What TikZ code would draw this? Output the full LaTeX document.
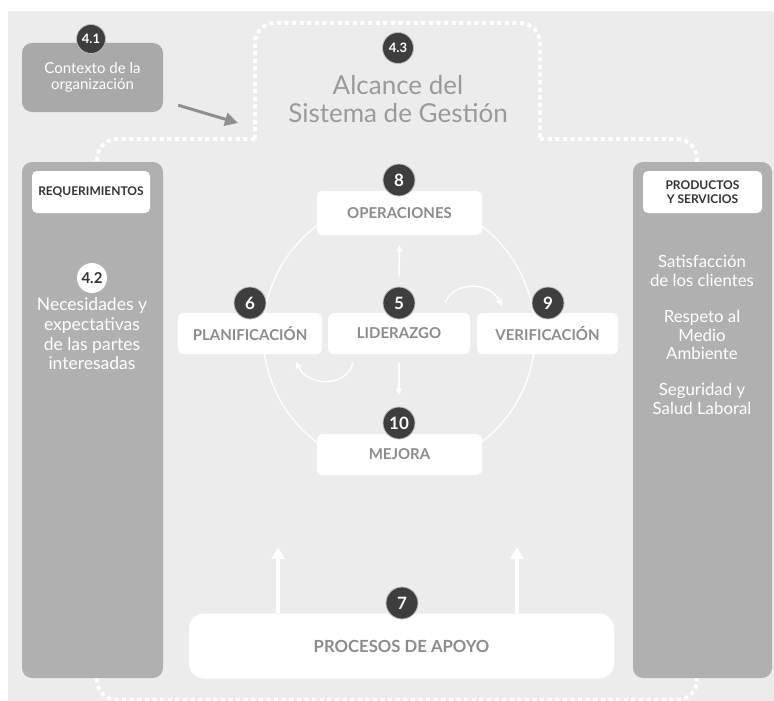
\documentclass[tikz,border=0pt]{standalone}
\usepackage{fontspec}
\setmainfont{Lato}
\usetikzlibrary{arrows.meta,calc}

\definecolor{bgc}{HTML}{ECECEC}
\definecolor{colgray}{HTML}{B0B0B0}
\definecolor{ctxgray}{HTML}{A9A9A9}
\definecolor{badgec}{HTML}{3E3E3E}
\definecolor{labelgray}{HTML}{8C8C8C}
\definecolor{titlegray}{HTML}{9A9A9A}
\definecolor{arrowgray}{HTML}{8F8F8F}
\definecolor{darktext}{HTML}{333333}

\newcommand{\fsz}[2]{\fontsize{#1}{#2}\selectfont}

\begin{document}
\begin{tikzpicture}[x=1pt,y=-1pt,
  column/.style={fill=colgray, rounded corners=10pt, inner sep=0pt, minimum width=141pt, minimum height=516pt},
  whitebox/.style={fill=white, rounded corners=5pt, inner sep=0pt, text=labelgray,
    font=\bfseries\fsz{15}{17}, minimum height=42pt},
  tagbox/.style={fill=white, rounded corners=5pt, inner sep=0pt, text=darktext,
    font=\bfseries\fsz{12}{13.5}, align=center, minimum height=42pt},
  badgenode/.style={circle, fill=badgec, draw=white!65!badgec, line width=0.8pt, inner sep=0pt,
    minimum size=32pt, text=white, font=\bfseries\fsz{17}{17}},
  smallbadge/.style={badgenode, minimum size=29pt, font=\bfseries\fsz{13}{13}},
  coltext/.style={text=white, align=center},
  scopeline/.style={draw=white, line width=3.8pt, dash pattern=on 4.2pt off 3.4pt},
  cyclearrow/.style={draw=white, line width=1.4pt, -{Stealth[length=7pt,width=7pt]}},
  bigarrow/.style={draw=white, line width=4pt, -{Triangle[length=12pt,width=13pt]}}
]
\useasboundingbox (0,0) rectangle (774,701);
\fill[white] (0,0) rectangle (774,701);
\fill[bgc] (8,11) rectangle (774,701);

% dotted outline of the management-system scope
\draw[scopeline, rounded corners=20pt] (255,139) |- (400,23) -| (540,139);
\draw[scopeline, rounded corners=20pt] (255,139) -| (97,420);
\draw[scopeline, rounded corners=20pt] (540,139) -| (697,420);
\draw[scopeline, rounded corners=20pt] (97,420) |- (400,700) -| (697,420);

% PDCA ring
\draw[white, line width=1.3pt] (399,334) circle[radius=136];

% 4.1 context
\node[fill=ctxgray, rounded corners=10pt, minimum width=141pt, minimum height=69pt, inner sep=0pt,
      text=white, align=center, font=\fsz{15}{15.5}] (ctx) at (92.5,77.5) {Contexto de la\\organización};
\node[smallbadge] (b41) at (91,39) {4.1};
\coordinate (scopecorner) at (238,123);
\draw[arrowgray, line width=3pt, -{Triangle[length=13pt,width=13pt]}]
  ($(ctx.south east)+(15,-7)$) -- (scopecorner);

% 4.3 scope title
\node[smallbadge, minimum size=31pt] (b43) at (398,48) {4.3};
\node[text=titlegray, align=center, font=\fsz{26}{28}] (scope) at (398,99) {Alcance del\\Sistema de Gestión};

% left column: requirements
\node[column] (left) at (92.5,420) {};
\node[tagbox, minimum width=118pt] (req) at (91,192) {REQUERIMIENTOS};
\node[circle, fill=white, inner sep=0pt, minimum size=30pt, text=darktext, font=\bfseries\fsz{15}{15}] (b42) at (92,278) {4.2};
\node[coltext, font=\fsz{17.5}{19.7}] (needs) at (92,334) {Necesidades y\\expectativas\\de las partes\\interesadas};

% right column: products and services
\node[column, minimum width=139pt] (right) at (702.5,420) {};
\node[tagbox, minimum width=119pt] (prod) at (702.5,192) {PRODUCTOS\\Y SERVICIOS};
\node[coltext, font=\fsz{16.8}{18.5}] (sat) at (702,271) {Satisfacción\\de los clientes};
\node[coltext, font=\fsz{16.8}{18.5}] (env) at (702,335) {Respeto al\\Medio\\Ambiente};
\node[coltext, font=\fsz{16.8}{18.5}] (ohs) at (702,399) {Seguridad y\\Salud Laboral};

% cycle boxes
\node[whitebox, minimum width=165pt, minimum height=44pt] (ops) at (399.5,213) {OPERACIONES};
\node[whitebox, minimum width=144pt, minimum height=41pt] (pla) at (250,333.5) {PLANIFICACIÓN};
\node[whitebox, minimum width=142pt, minimum height=41pt] (lid) at (399,333.5) {LIDERAZGO};
\node[whitebox, minimum width=141pt, minimum height=41pt] (ver) at (547.5,333.5) {VERIFICACIÓN};
\node[whitebox, minimum width=165pt, minimum height=41pt] (mej) at (399.5,454.5) {MEJORA};

% support processes
\node[fill=white, rounded corners=15pt, minimum width=425pt, minimum height=65pt, inner sep=0pt,
      text=labelgray, font=\bfseries\fsz{16.7}{18}] (apo) at (401.5,646) {PROCESOS DE APOYO};

% badges
\node[badgenode] (b8) at (399,180) {8};
\node[badgenode] (b6) at (250,303) {6};
\node[badgenode] (b5) at (399,303) {5};
\node[badgenode] (b9) at (548,303) {9};
\node[badgenode] (b10) at (399,423) {10};
\node[badgenode] (b7) at (402,603) {7};

% arrows around leadership
\draw[cyclearrow] ($(b5.north)+(0,-10)$) -- ($(ops.south)+(0,10)$);
\draw[cyclearrow] ($(lid.south)+(0,9)$) -- ($(b10.north)+(0,-12)$);
\draw[cyclearrow] ($(lid.north east)+(-25,-10)$) .. controls +(7,-21) and +(-12,-26) .. ($(ver.north west)+(25,-7)$);
\draw[cyclearrow] ($(lid.south west)+(25,9)$) .. controls +(-5,23) and +(12,26) .. ($(pla.south east)+(-26,8)$);

% support arrows
\coordinate (upL) at (278,547);
\coordinate (upR) at (517,547);
\draw[bigarrow] (apo.north west -| upL) -- (upL);
\draw[bigarrow] (apo.north west -| upR) -- (upR);
\end{tikzpicture}
\end{document}
